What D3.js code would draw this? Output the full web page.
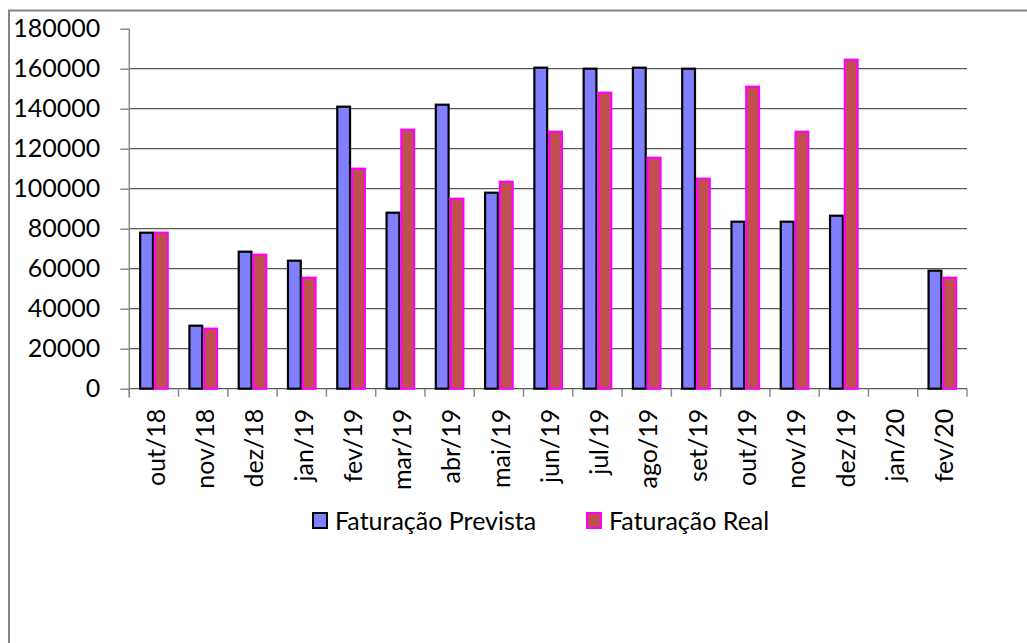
<!DOCTYPE html>
<html>
<head>
<meta charset="utf-8">
<style>
body { margin: 0; background: #fff; }
svg { display: block; font-family: Lato, "Liberation Sans", sans-serif; }
</style>
</head>
<body>
<svg width="1027" height="643"></svg>
<script src="https://cdn.jsdelivr.net/npm/d3@7"></script>
<script>
var months = ["out/18","nov/18","dez/18","jan/19","fev/19","mar/19","abr/19","mai/19","jun/19",
              "jul/19","ago/19","set/19","out/19","nov/19","dez/19","jan/20","fev/20"];
var prevista = [78000,31500,68500,64000,141000,88000,142000,98000,160500,
                160000,160500,160000,83500,83500,86500,null,59000];
var real = [78000,30000,67000,55500,110000,129500,95000,103500,128500,
            148000,115500,105000,151000,128500,164500,null,55500];
var seriesNames = ["Faturação Prevista","Faturação Real"];
var yTicks = [0,20000,40000,60000,80000,100000,120000,140000,160000,180000];

var svg = d3.select("svg"),
    plotL = 129.3, plotR = 967, plotT = 28.7, plotB = 388.7;

// outer chart border
svg.append("rect")
    .attr("x", 9).attr("y", 10.5)
    .attr("width", 1040).attr("height", 700)
    .attr("fill", "none").attr("stroke", "#858585").attr("stroke-width", 2);

var x = d3.scaleBand().domain(months).range([plotL, plotR]);
var x1 = d3.scaleBand().domain(seriesNames)
    .range([x.bandwidth() * 0.2, x.bandwidth() * 0.8]);
var y = d3.scaleLinear().domain([0, 180000]).range([plotB, plotT]);

var fills = ["#8080FF", "#C0504D"],
    strokes = ["#000000", "#FF00FF"];

// gridlines
svg.append("g").selectAll("line")
    .data(yTicks.filter(function(d) { return d < 180000; }))
    .enter().append("line")
      .attr("x1", plotL).attr("x2", plotR)
      .attr("y1", function(d) { return y(d); })
      .attr("y2", function(d) { return y(d); })
      .attr("stroke", "#585858")
      .attr("stroke-width", 1.3);

// y axis
var yAxis = svg.append("g")
    .attr("transform", "translate(" + plotL + ",0)")
    .call(d3.axisLeft(y).tickValues(yTicks).tickSize(9).tickPadding(20).tickFormat(d3.format("d")));
yAxis.select(".domain").attr("stroke", "#8a8a8a").attr("stroke-width", 1.5).attr("d", "M0," + plotT + "V" + (plotB + 9));
yAxis.selectAll(".tick line").attr("stroke", "#8a8a8a").attr("stroke-width", 1.5);
yAxis.selectAll(".tick text").attr("font-size", 25).attr("fill", "#000").attr("font-family", "Lato");

// x axis ticks at category boundaries
var xAxis = svg.append("g")
    .attr("transform", "translate(0," + plotB + ")");
xAxis.selectAll("line")
    .data(months.concat(["end"]))
    .enter().append("line")
      .attr("x1", function(d, i) { return plotL + i * x.step(); })
      .attr("x2", function(d, i) { return plotL + i * x.step(); })
      .attr("y1", 0).attr("y2", 8)
      .attr("stroke", "#8a8a8a").attr("stroke-width", 1.5);
xAxis.selectAll("text")
    .data(months)
    .enter().append("text")
      .attr("transform", function(d) {
        return "translate(" + (x(d) + x.bandwidth() / 2 + 2) + ",20) rotate(-90)";
      })
      .attr("text-anchor", "end")
      .attr("dy", "0.35em")
      .attr("font-size", 25)
      .attr("fill", "#000")
      .text(function(d) { return d; });

// bars
var data = months.map(function(m, i) { return {month: m, vals: [prevista[i], real[i]]}; });
var groups = svg.append("g").selectAll("g")
    .data(data)
    .enter().append("g")
      .attr("transform", function(d) { return "translate(" + x(d.month) + ",0)"; });
groups.selectAll("rect")
    .data(function(d) { return d.vals.map(function(v, k) { return {k: k, v: v}; }).filter(function(e) { return e.v != null; }); })
    .enter().append("rect")
      .attr("x", function(d) { return x1(seriesNames[d.k]) + 1; })
      .attr("y", function(d) { return y(d.v); })
      .attr("width", x1.bandwidth() - 2)
      .attr("height", function(d) { return plotB - y(d.v); })
      .attr("fill", function(d) { return fills[d.k]; })
      .attr("stroke", function(d) { return strokes[d.k]; })
      .attr("stroke-width", 2.2);

// legend
var legendX = [313, 587];
var legend = svg.append("g").selectAll("g")
    .data(seriesNames)
    .enter().append("g")
      .attr("transform", function(d, i) { return "translate(" + legendX[i] + ",513)"; });
legend.append("rect")
    .attr("width", 14).attr("height", 15)
    .attr("fill", function(d, i) { return fills[i]; })
    .attr("stroke", function(d, i) { return strokes[i]; })
    .attr("stroke-width", 2);
legend.append("text")
    .attr("x", 22).attr("y", 8).attr("dy", "0.35em")
    .attr("font-size", 25).attr("fill", "#000")
    .text(function(d) { return d; });
</script>
</body>
</html>
